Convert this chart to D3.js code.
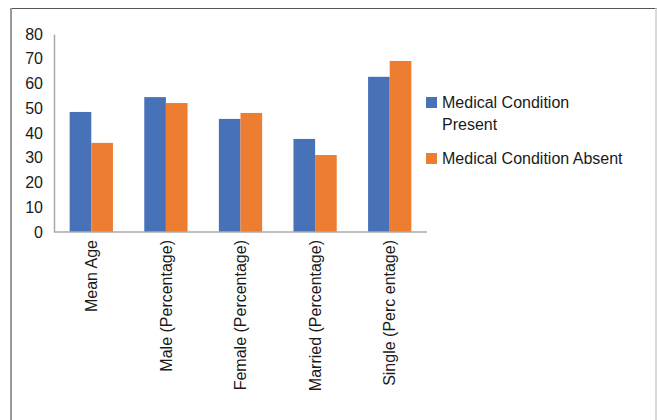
<!DOCTYPE html>
<html>
<head>
<meta charset="utf-8">
<script src="https://cdn.jsdelivr.net/npm/d3@7"></script>
<style>
  body { margin: 0; background: #fff; }
  text { font-family: "Liberation Sans", Arial, sans-serif; fill: #1a1a1a; }
</style>
</head>
<body>
<div id="chart"></div>
<script>
// chart values
const categories = ['Mean Age', 'Male (Percentage)', 'Female (Percentage)', 'Married (Percentage)', 'Single (Perc entage)'];
const seriesNames = ['Medical Condition Present', 'Medical Condition Absent'];
const present = [48.5, 54.5, 45.7, 37.6, 62.7];
const absent = [36.0, 52.1, 48.1, 31.1, 69.1];
const yTicks = [0, 10, 20, 30, 40, 50, 60, 70, 80];
const colors = ['#4872b8', '#ed7d31'];

const width = 657, height = 420;
const fontSize = '16px';

const svg = d3.select('#chart').append('svg')
    .attr('width', width)
    .attr('height', height);

// outer frame (partial, as in the cropped figure)
svg.append('line').attr('x1', 10).attr('x2', 657).attr('y1', 8.5).attr('y2', 8.5)
    .attr('stroke', '#555').attr('stroke-width', 1);
svg.append('line').attr('x1', 11).attr('x2', 11).attr('y1', 8).attr('y2', 420)
    .attr('stroke', '#999').attr('stroke-width', 2);
svg.append('line').attr('x1', 656).attr('x2', 656).attr('y1', 8).attr('y2', 420)
    .attr('stroke', '#ccc').attr('stroke-width', 1.5);

const x0 = d3.scaleBand()
    .domain(categories)
    .range([54, 427])
    .paddingInner(0.42)
    .paddingOuter(0.21);

const x1 = d3.scaleBand()
    .domain(seriesNames)
    .range([0, x0.bandwidth()]);

const y = d3.scaleLinear()
    .domain([0, 80])
    .range([232, 34]);

const rows = categories.map((c, i) => ({ cat: c, vals: [present[i], absent[i]] }));

const groups = svg.selectAll('.grp')
    .data(rows)
    .enter().append('g')
    .attr('class', 'grp')
    .attr('transform', d => `translate(${x0(d.cat)},0)`);

groups.selectAll('rect')
    .data(d => d.vals.map((v, j) => ({ name: seriesNames[j], v: v, j: j })))
    .enter().append('rect')
    .attr('x', d => x1(d.name))
    .attr('width', x1.bandwidth())
    .attr('y', d => y(d.v))
    .attr('height', d => y(0) - y(d.v))
    .attr('fill', d => colors[d.j]);

// y axis
const yAxis = d3.axisLeft(y).tickValues(yTicks).tickSize(0).tickPadding(11);
const yg = svg.append('g').attr('transform', 'translate(54,0)').call(yAxis);
yg.select('.domain').attr('stroke', '#aaa').attr('stroke-width', 1.5);
yg.selectAll('text').style('font-size', fontSize).attr('fill', '#1a1a1a')
    .style('font-family', '"Liberation Sans", Arial, sans-serif');

// x axis
const xAxis = d3.axisBottom(x0).tickSize(0).tickPadding(0);
const xg = svg.append('g').attr('transform', 'translate(0,232)').call(xAxis);
xg.select('.domain').attr('stroke', '#aaa').attr('stroke-width', 1.5)
    .attr('d', 'M54,0H427');
xg.selectAll('text')
    .style('font-size', fontSize).attr('fill', '#1a1a1a')
    .style('font-family', '"Liberation Sans", Arial, sans-serif')
    .attr('text-anchor', 'end')
    .attr('dy', '0.35em')
    .attr('transform', 'translate(0,8) rotate(-90)')
    .attr('y', 0)
    .attr('x', 0);

// legend
const legend = svg.append('g').attr('transform', 'translate(426,0)');
const legendRows = [
    { lines: ['Medical Condition', 'Present'], y: 97 },
    { lines: ['Medical Condition Absent'], y: 153 }
];
legendRows.forEach((r, i) => {
    legend.append('rect')
        .attr('x', 0).attr('y', r.y)
        .attr('width', 11).attr('height', 11)
        .attr('fill', colors[i]);
    const t = legend.append('text')
        .attr('x', 16).attr('y', r.y + 11)
        .style('font-size', fontSize);
    r.lines.forEach((ln, k) => {
        t.append('tspan').attr('x', 16).attr('dy', k === 0 ? 0 : 22).text(ln);
    });
});
</script>
</body>
</html>
